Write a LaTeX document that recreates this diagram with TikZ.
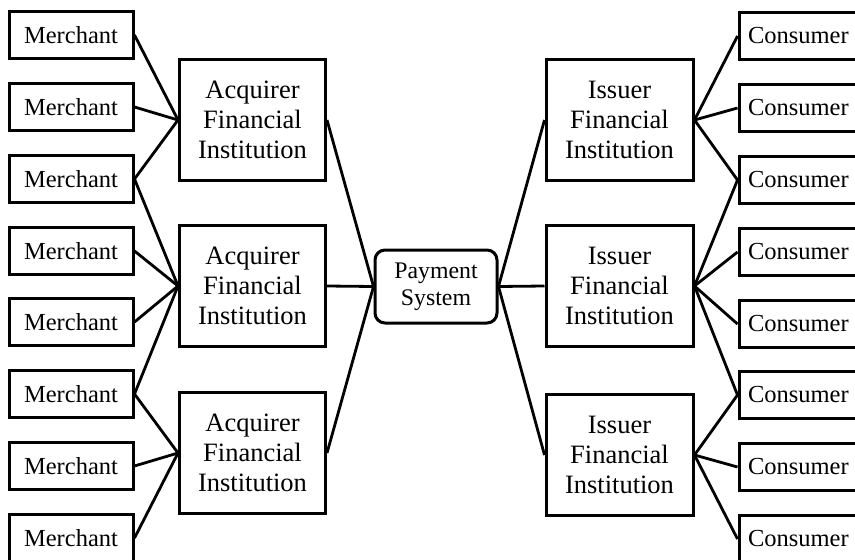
\documentclass[tikz,border=0pt]{standalone}
\usepackage{fontspec}
\setmainfont{Liberation Serif}
\usepackage{tikz}
\usetikzlibrary{positioning}

\begin{document}
\begin{tikzpicture}[
    x=1pt, y=-1pt,
    smallbox/.style={draw, line width=3pt, minimum width=124pt, minimum height=47pt, inner sep=0pt, font=\fontsize{24.5}{28}\selectfont},
    instbox/.style={draw, line width=3pt, minimum width=146pt, minimum height=121pt, inner sep=0pt, align=center, font=\fontsize{26.5}{30}\selectfont},
    paybox/.style={draw, line width=3pt, minimum width=122pt, minimum height=73pt, inner sep=0pt, rounded corners=10pt, align=center, font=\fontsize{23.8}{27}\selectfont},
    link/.style={line width=2.8pt}
]
    \useasboundingbox (0,0) rectangle (855,560);

    % Merchants
    \node[smallbox] (merch1) at (71,35) {Merchant};
    \node[smallbox] (merch2) at (71,107) {Merchant};
    \node[smallbox] (merch3) at (71,179) {Merchant};
    \node[smallbox] (merch4) at (71,251) {Merchant};
    \node[smallbox] (merch5) at (71,322) {Merchant};
    \node[smallbox] (merch6) at (71,394) {Merchant};
    \node[smallbox] (merch7) at (71,466) {Merchant};
    \node[smallbox] (merch8) at (71,538) {Merchant};

    % Acquirers
    \node[instbox] (acq1) at (252.5,120) {Acquirer\\Financial\\Institution};
    \node[instbox] (acq2) at (252.5,286) {Acquirer\\Financial\\Institution};
    \node[instbox] (acq3) at (252.5,453) {Acquirer\\Financial\\Institution};

    % Payment system
    \node[paybox] (pay) at (436,286.5) {Payment\\System};

    % Issuers
    \node[instbox, minimum width=147pt] (iss1) at (619.5,120) {Issuer\\Financial\\Institution};
    \node[instbox, minimum width=147pt] (iss2) at (619.5,286) {Issuer\\Financial\\Institution};
    \node[instbox, minimum width=147pt] (iss3) at (619.5,455) {Issuer\\Financial\\Institution};

    % Consumers
    \node[smallbox, text width=110pt, align=left, inner xsep=9pt] (cons1) at (803,36) {Consumer};
    \node[smallbox, text width=110pt, align=left, inner xsep=9pt] (cons2) at (803,108) {Consumer};
    \node[smallbox, text width=110pt, align=left, inner xsep=9pt] (cons3) at (803,180) {Consumer};
    \node[smallbox, text width=110pt, align=left, inner xsep=9pt] (cons4) at (803,252) {Consumer};
    \node[smallbox, text width=110pt, align=left, inner xsep=9pt] (cons5) at (803,324) {Consumer};
    \node[smallbox, text width=110pt, align=left, inner xsep=9pt] (cons6) at (803,395) {Consumer};
    \node[smallbox, text width=110pt, align=left, inner xsep=9pt] (cons7) at (803,467) {Consumer};
    \node[smallbox, text width=110pt, align=left, inner xsep=9pt] (cons8) at (803,539) {Consumer};

    % Merchant links
    \draw[link] (merch1.east) -- (acq1.west);
    \draw[link] (merch2.east) -- (acq1.west);
    \draw[link] (merch3.east) -- (acq1.west);
    \draw[link] (merch3.east) -- (acq2.west);
    \draw[link] (merch4.east) -- (acq2.west);
    \draw[link] (merch5.east) -- (acq2.west);
    \draw[link] (merch6.east) -- (acq2.west);
    \draw[link] (merch6.east) -- (acq3.west);
    \draw[link] (merch7.east) -- (acq3.west);
    \draw[link] (merch8.east) -- (acq3.west);

    % Links to the payment system
    \draw[link] (acq1.east) -- (pay.west);
    \draw[link] (acq2.east) -- (pay.west);
    \draw[link] (acq3.east) -- (pay.west);
    \draw[link] (pay.east) -- (iss1.west);
    \draw[link] (pay.east) -- (iss2.west);
    \draw[link] (pay.east) -- (iss3.west);

    % Consumer links
    \draw[link] (iss1.east) -- (cons1.west);
    \draw[link] (iss1.east) -- (cons2.west);
    \draw[link] (iss1.east) -- (cons3.west);
    \draw[link] (iss2.east) -- (cons3.west);
    \draw[link] (iss2.east) -- (cons4.west);
    \draw[link] (iss2.east) -- (cons5.west);
    \draw[link] (iss2.east) -- (cons6.west);
    \draw[link] (iss3.east) -- (cons6.west);
    \draw[link] (iss3.east) -- (cons7.west);
    \draw[link] (iss3.east) -- (cons8.west);
\end{tikzpicture}
\end{document}
